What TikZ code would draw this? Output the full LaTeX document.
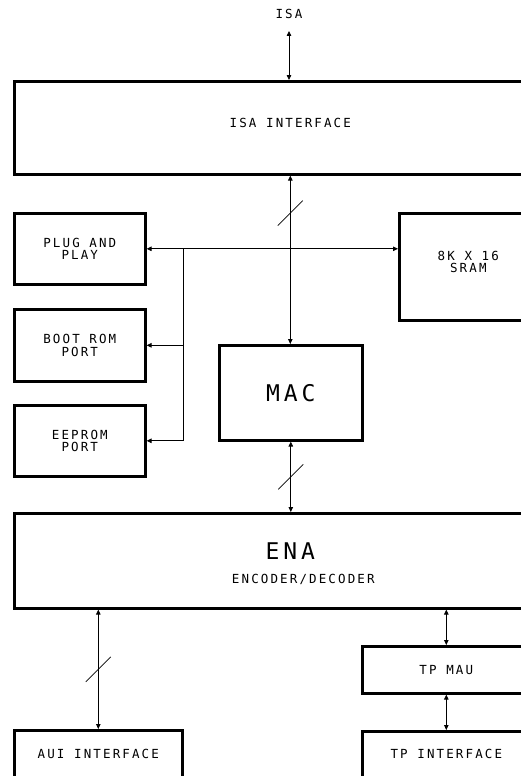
\documentclass[tikz,border=0pt]{standalone}
\usepackage{fontspec}
\newfontfamily\cadfont[LetterSpace=17]{DejaVu Sans Mono}
\newcommand\cadsmall{\cadfont\fontsize{12.5}{12.5}\selectfont}
\newcommand\cadbig{\cadfont\fontsize{23}{24}\selectfont}
\usetikzlibrary{arrows.meta, calc}

\begin{document}
\begin{tikzpicture}
        [x=1pt, y=-1pt,
         blk/.style={draw, line width=2.6pt, anchor=north west, inner sep=0pt, align=center, font=\cadsmall},
         lbl/.style={align=center, font=\cadsmall},
         wire/.style={line width=0.8pt},
         bus/.style={wire, {Triangle[length=5pt,width=4.5pt]}-{Triangle[length=5pt,width=4.5pt]}},
         tip/.style={wire, -{Triangle[length=5pt,width=4.5pt]}},
         slash/.style={line width=0.6pt}]
        \clip (0,0) rectangle (521,776);
        %blocchi
            \node[blk, minimum width=552pt, minimum height=93pt,
                  label={[lbl, yshift=4.5pt]center:ISA INTERFACE}] (isaif) at (13,80) {};
            \node[blk, minimum width=131pt, minimum height=71pt] (pnp) at (13,212) {PLUG AND\\PLAY};
            \node[blk, minimum width=131pt, minimum height=72pt] (bootrom) at (13,308) {BOOT ROM\\PORT};
            \node[blk, minimum width=131pt, minimum height=71pt] (eeprom) at (13,404) {EEPROM\\PORT};
            \node[blk, minimum width=138pt, minimum height=107pt,
                  label={[lbl, yshift=5pt]center:8K X 16\\SRAM}] (sram) at (398,212) {};
            \node[blk, minimum width=143pt, minimum height=95pt, font=\cadbig] (mac) at (218,344) {MAC};
            \node[blk, minimum width=552pt, minimum height=95pt,
                  label={[lbl, yshift=-3pt]center:{\cadbig ENA}\\[11pt]\hspace*{26pt}ENCODER/DECODER}] (ena) at (13,512) {};
            \node[blk, minimum width=168pt, minimum height=47pt] (tpmau) at (361,645) {TP MAU};
            \node[blk, minimum width=168pt, minimum height=80pt,
                  label={[lbl, yshift=16pt]center:AUI INTERFACE}] (aui) at (13,729) {};
            \node[blk, minimum width=168pt, minimum height=80pt,
                  label={[lbl, yshift=17pt]center:TP INTERFACE}] (tpif) at (361,730) {};
            %etichetta bus
            \node[lbl] (isa) at (289,14) {ISA};
            \coordinate (isatop) at (289,31);
        %collegamenti
            \draw[bus] (isatop) -- (isatop |- isaif.north);
            \draw[bus] (isaif.south) -- (isaif.south |- mac.north);
            \draw[bus] (pnp.east) -- (pnp.east -| sram.west);
            \coordinate (busx) at ($(pnp.east)+(37,0)$);
            \draw[wire] (busx) -- (busx |- eeprom.east);
            \draw[tip] (busx |- bootrom.east) -- (bootrom.east);
            \draw[tip] (busx |- eeprom.east) -- (eeprom.east);
            \draw[bus] (mac.south) -- (mac.south |- ena.north);
            \draw[bus] (aui.north) -- (aui.north |- ena.south);
            \draw[bus] (tpmau.north) -- (tpmau.north |- ena.south);
            \draw[bus] (tpif.north) -- (tpif.north |- tpmau.south);
        %tratti bus paralleli
            \draw[slash] ($(isaif.south)+(-12.5,50)$) --++ (25,-25);
            \draw[slash] ($(mac.south)!0.5!(mac.south |- ena.north)+(-12.5,12.5)$) --++ (25,-25);
            \draw[slash] ($(aui.north)!0.5!(aui.north |- ena.south)+(-12.5,12.5)$) --++ (25,-25);
    \end{tikzpicture}
\end{document}
